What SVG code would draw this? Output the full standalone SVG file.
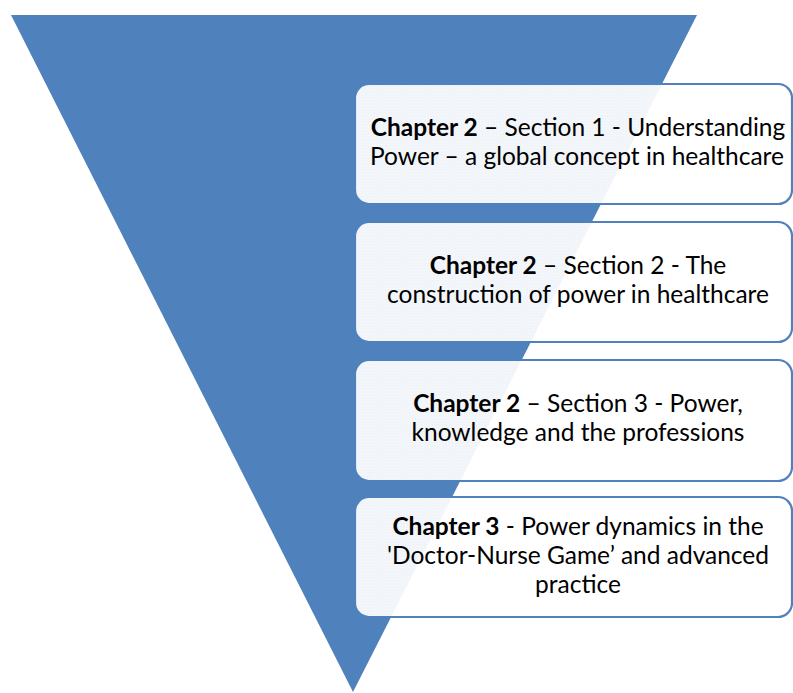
<svg xmlns="http://www.w3.org/2000/svg" width="793" height="693" viewBox="0 0 793 693">
<defs>
<pattern id="dots" width="3" height="3" patternUnits="userSpaceOnUse">
<rect width="3" height="3" fill="#ffffff" fill-opacity="0.92"/>
<rect x="0" y="0" width="1" height="1" fill="#ffffff" fill-opacity="0.5"/>
</pattern>
</defs>
<style>
.box{fill:url(#dots);stroke:#4F81BD;stroke-width:2.2}
.t{font-family:Lato,"Carlito","Open Sans",sans-serif;font-size:24.5px;fill:#000;text-anchor:middle}
.b{font-weight:bold}
</style>
<g id="funnel">
<polygon points="11,15 697,15 353,692" fill="#4F81BD"/>
</g>
<g id="connectors"></g>
<g id="box1">
<rect class="box" x="355" y="84" width="437" height="120" rx="14" ry="14"/>
<text class="t" x="578" y="136"><tspan class="b">Chapter 2</tspan> – Section 1 - Understanding</text>
<text class="t" x="577" y="165">Power – a global concept in healthcare</text>
</g>
<g id="box2">
<rect class="box" x="355" y="222" width="437" height="120" rx="14" ry="14"/>
<text class="t" x="578" y="274"><tspan class="b">Chapter 2</tspan> – Section 2 - The</text>
<text class="t" x="578" y="303">construction of power in healthcare</text>
</g>
<g id="box3">
<rect class="box" x="355" y="360" width="437" height="121" rx="14" ry="14"/>
<text class="t" x="578" y="412"><tspan class="b">Chapter 2</tspan> – Section 3 - Power,</text>
<text class="t" x="578" y="441">knowledge and the professions</text>
</g>
<g id="box4">
<rect class="box" x="355" y="497" width="437" height="120" rx="14" ry="14"/>
<text class="t" x="578" y="535"><tspan class="b">Chapter 3</tspan> - Power dynamics in the</text>
<text class="t" x="578" y="564">'Doctor-Nurse Game’ and advanced</text>
<text class="t" x="578" y="593">practice</text>
</g>
</svg>
